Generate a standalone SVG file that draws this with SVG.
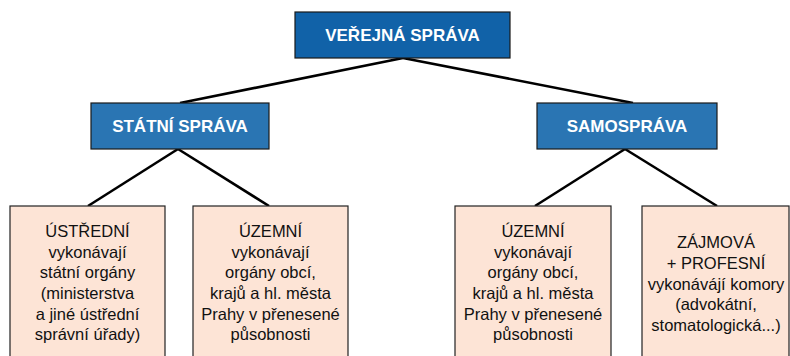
<svg xmlns="http://www.w3.org/2000/svg" width="790" height="356" viewBox="0 0 790 356">
<style>
.hdr{stroke:#1a1a1a;stroke-width:1.2}
.top{fill:#1162a8}
.mid{fill:#2a75b3}
.leaf{fill:#fde4d6;stroke:#222;stroke-width:1.2}
.ht{font-family:"Liberation Sans",Arial,sans-serif;font-weight:bold;font-size:17px;fill:#fff;text-anchor:middle}
.lt{font-family:"Liberation Sans",Arial,sans-serif;font-size:16.5px;fill:#111;text-anchor:middle}
.conn line{stroke:#000;stroke-width:2.6;stroke-linecap:butt}
</style>
<rect width="790" height="356" fill="#fff"/>
<g class="conn">
<line x1="403" y1="58" x2="180" y2="103"/>
<line x1="403" y1="58" x2="633" y2="103"/>
<line x1="178" y1="149" x2="88" y2="206"/>
<line x1="178" y1="149" x2="269" y2="206"/>
<line x1="625" y1="149" x2="535" y2="206"/>
<line x1="625" y1="149" x2="717" y2="206"/>
</g>
<g id="verejna-sprava">
<rect class="hdr top" x="295" y="12" width="215" height="46"/>
<text class="ht" x="402.5" y="41">VEŘEJNÁ SPRÁVA</text>
</g>
<g id="statni-sprava">
<rect class="hdr mid" x="91" y="103" width="178" height="46"/>
<text class="ht" x="180" y="132">STÁTNÍ SPRÁVA</text>
</g>
<g id="samosprava">
<rect class="hdr mid" x="537" y="103" width="180" height="46"/>
<text class="ht" x="627" y="132">SAMOSPRÁVA</text>
</g>
<g id="ustredni">
<rect class="leaf" x="10" y="206" width="155" height="160"/>
<text class="lt" x="87.5" y="237">ÚSTŘEDNÍ</text>
<text class="lt" x="87.5" y="258">vykonávají</text>
<text class="lt" x="87.5" y="278">státní orgány</text>
<text class="lt" x="87.5" y="299">(ministerstva</text>
<text class="lt" x="87.5" y="320">a jiné ústřední</text>
<text class="lt" x="87.5" y="340">správní úřady)</text>
</g>
<g id="uzemni-statni">
<rect class="leaf" x="193" y="206" width="155" height="160"/>
<text class="lt" x="270.5" y="237">ÚZEMNÍ</text>
<text class="lt" x="270.5" y="258">vykonávají</text>
<text class="lt" x="270.5" y="278">orgány obcí,</text>
<text class="lt" x="270.5" y="299">krajů a hl. města</text>
<text class="lt" x="270.5" y="320">Prahy v přenesené</text>
<text class="lt" x="270.5" y="340">působnosti</text>
</g>
<g id="uzemni-samo">
<rect class="leaf" x="455" y="206" width="156" height="160"/>
<text class="lt" x="533" y="237">ÚZEMNÍ</text>
<text class="lt" x="533" y="258">vykonávají</text>
<text class="lt" x="533" y="278">orgány obcí,</text>
<text class="lt" x="533" y="299">krajů a hl. města</text>
<text class="lt" x="533" y="320">Prahy v přenesené</text>
<text class="lt" x="533" y="340">působnosti</text>
</g>
<g id="zajmova">
<rect class="leaf" x="642" y="206" width="147" height="160"/>
<text class="lt" x="716" y="248">ZÁJMOVÁ</text>
<text class="lt" x="716" y="269">+ PROFESNÍ</text>
<text class="lt" x="716" y="290">vykonávájí komory</text>
<text class="lt" x="716" y="310">(advokátní,</text>
<text class="lt" x="716" y="331">stomatologická...)</text>
</g>
</svg>
